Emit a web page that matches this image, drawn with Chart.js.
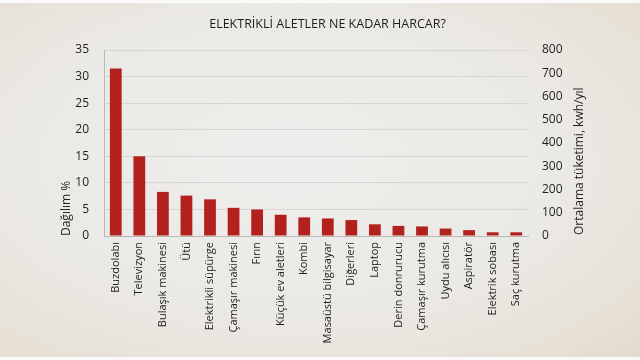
<!DOCTYPE html>
<html>
<head>
<meta charset="utf-8">
<script src="https://cdn.jsdelivr.net/npm/chart.js@4"></script>
<style>
  html, body { margin: 0; padding: 0; background: #fafafa; }
  #paper {
    position: absolute; left: 0; top: 3px; width: 640px; height: 354px;
    background: radial-gradient(ellipse at 45% 45%, #eeeeec 0%, #ebe9e6 55%, #e7e1d6 85%, #e3dacb 100%);
  }
  #wrap { position: absolute; left: 0; top: 0; width: 640px; height: 360px; }
</style>
</head>
<body>
<div id="paper"></div>
<div id="wrap"><canvas id="chart" width="640" height="360"></canvas></div>
<script>
const TITLE = 'ELEKTRİKLİ ALETLER NE KADAR HARCAR?'
const LEFT_TITLE = 'Dağılım %'
const RIGHT_TITLE = 'Ortalama tüketimi, kwh/yıl'

const categories = [
  'Buzdolabı', 'Televizyon', 'Bulaşık makinesi', 'Ütü', 'Elektrikli süpürge',
  'Çamaşır makinesi', 'Fırın', 'Küçük ev aletleri', 'Kombi', 'Masaüstü bilgisayar',
  'Diğerleri', 'Laptop', 'Derin donrurucu', 'Çamaşır kurutma', 'Uydu alıcısı',
  'Aspiratör', 'Elektrik sobası', 'Saç kurutma'
]
const dagilim = [31.5, 15, 8.3, 7.6, 6.9, 5.3, 5.0, 4.0, 3.5, 3.3, 3.0, 2.2, 1.9, 1.8, 1.4, 1.1, 0.7, 0.7]

const leftMax = 35, leftStep = 5
const rightMax = 800, rightStep = 100

const FONT = '"Open Sans", "Noto Sans", sans-serif'
const INK = '#1f1f1f'
const BAR = '#b3211e'

// right axis title reads bottom-to-top, so draw it ourselves
const rightTitle = {
  id: 'rightTitle',
  afterDraw(chart) {
    const ctx = chart.ctx
    const a = chart.chartArea
    ctx.save()
    ctx.translate(580, a.bottom - 1)
    ctx.rotate(-Math.PI / 2)
    ctx.font = '12px ' + FONT
    ctx.fillStyle = INK
    ctx.textAlign = 'left'
    ctx.textBaseline = 'middle'
    ctx.fillText(RIGHT_TITLE, 0, 0)
    ctx.restore()
  }
}

new Chart(document.getElementById('chart'), {
  type: 'bar',
  data: {
    labels: categories,
    datasets: [{
      data: dagilim,
      backgroundColor: BAR,
      borderWidth: 0,
      barPercentage: 0.5,
      categoryPercentage: 1,
      yAxisID: 'y'
    }]
  },
  options: {
    responsive: false,
    animation: false,
    layout: { padding: { left: 57, right: 42, top: 0, bottom: 0 } },
    plugins: {
      legend: { display: false },
      tooltip: { enabled: false },
      title: {
        display: true,
        text: TITLE,
        color: INK,
        font: { family: FONT, size: 12.5, weight: 'normal' },
        padding: { top: 17, bottom: 18 }
      }
    },
    scales: {
      x: {
        grid: { display: false, drawTicks: false },
        border: { display: true, color: '#b8b8b6', width: 1 },
        ticks: {
          color: INK, font: { family: FONT, size: 11 },
          minRotation: 90, maxRotation: 90, autoSkip: false, padding: 6
        },
        afterFit: s => { s.height = 124 }
      },
      y: {
        position: 'left',
        min: 0, max: leftMax,
        grid: { color: '#d6d6d4', lineWidth: 1, drawTicks: false },
        border: { display: true, color: '#b8b8b6', width: 1 },
        ticks: { stepSize: leftStep, color: INK, font: { family: FONT, size: 12 }, padding: 15 },
        title: {
          display: true, text: LEFT_TITLE, align: 'start', color: INK,
          font: { family: FONT, size: 12 }, padding: { top: 2, bottom: 0 }
        },
        afterFit: s => { s.width = 47 }
      },
      y2: {
        position: 'right',
        min: 0, max: rightMax,
        grid: { drawOnChartArea: false, drawTicks: false },
        border: { display: false },
        ticks: { stepSize: rightStep, color: INK, font: { family: FONT, size: 12 }, padding: 14 },
        afterFit: s => { s.width = 70 }
      }
    }
  },
  plugins: [rightTitle]
})
</script>
</body>
</html>
